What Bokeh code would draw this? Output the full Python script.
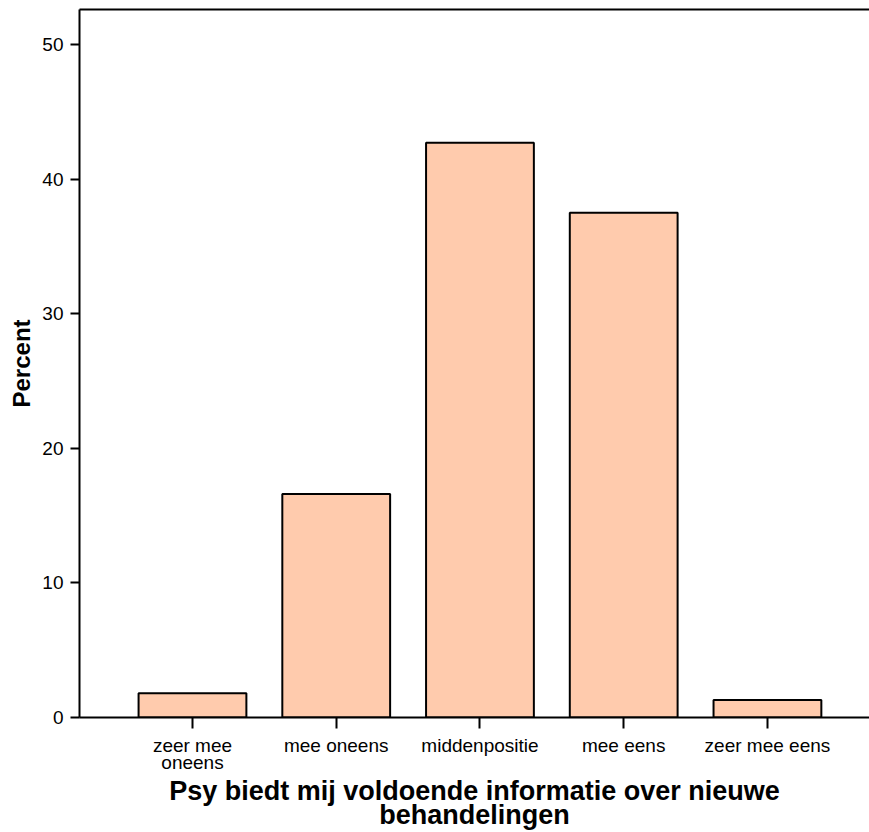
from bokeh.plotting import figure
from bokeh.models import ColumnDataSource, FixedTicker, LinearAxis, Range1d
from bokeh.embed import file_html
from bokeh.resources import INLINE

categories = ["zeer mee\noneens", "mee oneens", "middenpositie", "mee eens", "zeer mee eens"]
percent = [1.8, 16.6, 42.7, 37.5, 1.3]
y_ticks = [0, 10, 20, 30, 40, 50]

positions = list(range(len(categories)))
src = ColumnDataSource(dict(x=positions, top=percent))

FONT = "Liberation Sans"

p = figure(width=869, height=832, output_backend="svg", toolbar_location=None,
           x_range=Range1d(-0.786, 4.71), y_range=Range1d(0, 52.6),
           min_border_left=79, min_border_top=9, min_border_right=0, min_border_bottom=115,
           background_fill_color="white", border_fill_color="white")
p.outline_line_color = None
p.grid.visible = False

p.vbar(x="x", top="top", width=0.75, bottom=0, source=src,
       fill_color="#FFCBAD", line_color="black", line_width=2)

# x axis
xa = p.xaxis[0]
xa.ticker = FixedTicker(ticks=positions)
xa.major_label_overrides = {i: c for i, c in zip(positions, categories)}
xa.minor_tick_line_color = None
xa.major_tick_in = 0
xa.major_tick_out = 11
xa.major_tick_line_width = 2
xa.axis_line_width = 2
xa.major_label_standoff = 6
xa.major_label_text_font = FONT
xa.major_label_text_font_size = "19px"
xa.major_label_text_line_height = 0.82
xa.major_label_text_color = "black"
xa.axis_label = "Psy biedt mij voldoende informatie over nieuwe\nbehandelingen"
xa.axis_label_text_font = FONT
xa.axis_label_text_font_style = "bold"
xa.axis_label_text_font_size = "27px"
xa.axis_label_text_line_height = 0.8
xa.axis_label_text_color = "black"
xa.axis_label_standoff = 0

# y axis
ya = p.yaxis[0]
ya.ticker = FixedTicker(ticks=y_ticks)
ya.minor_tick_line_color = None
ya.major_tick_in = 0
ya.major_tick_out = 9
ya.major_tick_line_width = 2
ya.axis_line_width = 2
ya.major_label_standoff = 7
ya.major_label_text_font = FONT
ya.major_label_text_font_size = "19px"
ya.major_label_text_color = "black"
ya.axis_label = "Percent"
ya.axis_label_text_font = FONT
ya.axis_label_text_font_style = "bold"
ya.axis_label_text_font_size = "24px"
ya.axis_label_text_color = "black"
ya.axis_label_standoff = 4

# top border line
top = LinearAxis(ticker=FixedTicker(ticks=[]), axis_line_width=2, axis_line_color="black",
                 major_tick_line_color=None, minor_tick_line_color=None,
                 major_label_text_font_size="0px", major_label_standoff=0)
p.add_layout(top, "above")

open("out.html", "w").write(file_html(p, INLINE))
